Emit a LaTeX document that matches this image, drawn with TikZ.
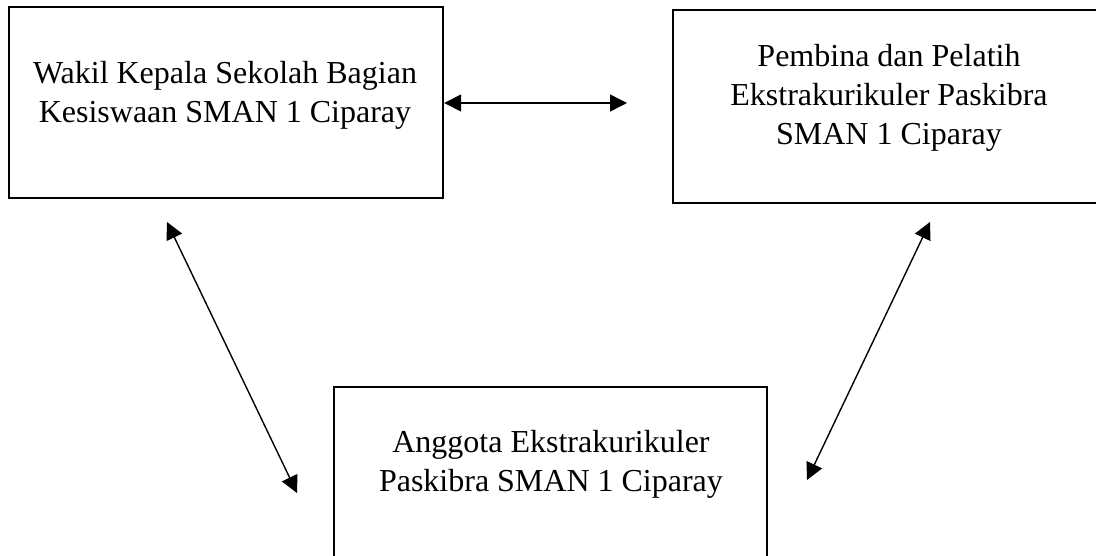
\documentclass[tikz,border=0pt]{standalone}
\usepackage{fontspec}
\setmainfont{Liberation Serif}
\usetikzlibrary{arrows.meta}
\begin{document}
\begin{tikzpicture}[x=1pt,y=-1pt,
  box/.style={draw=black,line width=2.4pt,rectangle,inner sep=0pt},
  label/.style={inner sep=0pt,align=center,font=\fontsize{32}{39}\selectfont},
  link/.style={line width=1.4pt,{Triangle[length=17pt,width=17pt]}-{Triangle[length=17pt,width=17pt]}}]
\useasboundingbox (0,0) rectangle (1096,555);
% boxes
\node[box,minimum width=434pt,minimum height=191pt] (wakil) at (226,102.5) {};
\node[box,minimum width=432pt,minimum height=193pt] (pembina) at (889,106.5) {};
\node[box,minimum width=433pt,minimum height=193pt] (anggota) at (550.5,483.5) {};
% texts
\node[label] (twakil) at (225,95) {Wakil Kepala Sekolah Bagian\\Kesiswaan SMAN 1 Ciparay};
\node[label] (tpembina) at (889,98) {Pembina dan Pelatih\\Ekstrakurikuler Paskibra\\SMAN 1 Ciparay};
\node[label] (tanggota) at (551,464.5) {Anggota Ekstrakurikuler\\Paskibra SMAN 1 Ciparay};
% connector ends
\coordinate (h2) at (627,103);
\coordinate (l1) at (167,222);
\coordinate (l2) at (297,493);
\coordinate (r1) at (930,222);
\coordinate (r2) at (807,480);
\draw[link] (wakil.east |- h2) -- (h2);
\draw[link] (l1) -- (l2);
\draw[link] (r1) -- (r2);
\end{tikzpicture}
\end{document}
